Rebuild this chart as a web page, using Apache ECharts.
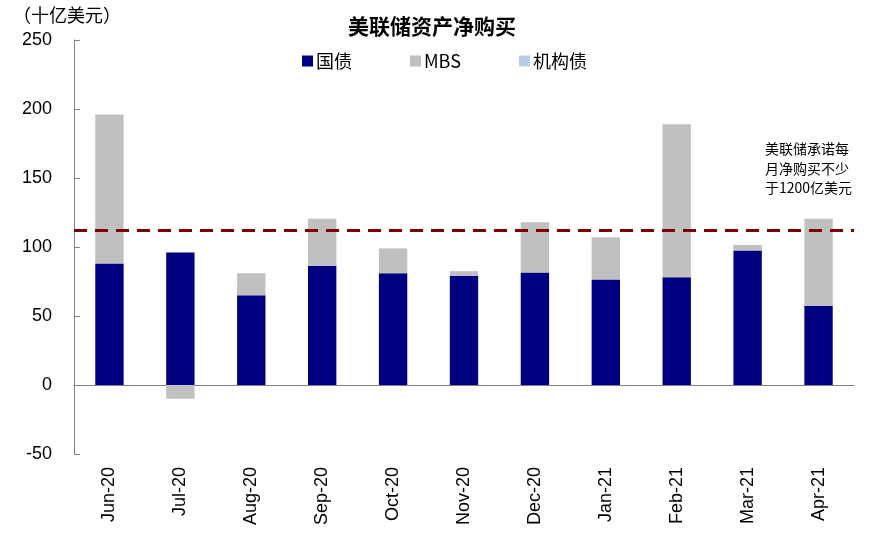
<!DOCTYPE html>
<html>
<head>
<meta charset="utf-8">
<script src="https://cdn.jsdelivr.net/npm/echarts@6/dist/echarts.min.js"></script>
<style>html,body{margin:0;padding:0;background:#fff;}#c{width:887px;height:543px;}</style>
</head>
<body>
<div id="c"></div>
<script>
const categories = ['Jun-20','Jul-20','Aug-20','Sep-20','Oct-20','Nov-20','Dec-20','Jan-21','Feb-21','Mar-21','Apr-21'];
const treasury = [88, 96, 65, 86.5, 81, 79, 81.5, 76.5, 78, 97.5, 57.5];
const mbs = [108, -10, 16, 34, 18, 3.5, 36.5, 30.5, 111, 4, 63];
const agency = [0, 0, 0, 0, 0, 0, 0, 0, 0, 0, 0];
const pledgeLevel = 112;
const yTicks = { min: -50, max: 250, interval: 50 };

const font = '"Liberation Sans", Arial, sans-serif';
const cjk = '"Noto Sans CJK SC", sans-serif';
const chart = echarts.init(document.getElementById('c'));
chart.setOption({
  animation: false,
  title: {
    text: '美联储资产净购买', left: 343, top: 11,
    textStyle: { fontFamily: cjk, fontSize: 21, fontWeight: 'bold', color: '#000' }
  },
  legend: {
    left: 297, top: 47, itemWidth: 11, itemHeight: 11, itemGap: 58, icon: 'rect',
    textStyle: { fontFamily: cjk, fontSize: 18, color: '#000', padding: [0,0,0,-2] },
    data: ['国债', 'MBS', '机构债']
  },
  grid: { left: 74, right: 33, top: 40, bottom: 89, containLabel: false },
  xAxis: [{
    type: 'category', data: categories, position: 'bottom',
    axisLine: { onZero: true, lineStyle: { color: '#808080', width: 1 } },
    axisTick: { inside: true, length: 6, lineStyle: { color: '#808080' } },
    axisLabel: { show: false }
  }, {
    type: 'category', data: categories, position: 'bottom',
    axisLine: { show: false, onZero: false }, axisTick: { show: false },
    axisLabel: { rotate: 90, margin: 13, fontSize: 18, fontFamily: font, color: '#000' }
  }],
  yAxis: {
    type: 'value', min: yTicks.min, max: yTicks.max, interval: yTicks.interval,
    axisLine: { show: true, lineStyle: { color: '#808080', width: 1 } },
    axisTick: { show: true, inside: true, length: 6, lineStyle: { color: '#808080' } },
    splitLine: { show: false },
    axisLabel: { fontSize: 18, fontFamily: font, color: '#000', margin: 22 }
  },
  graphic: [
    { type: 'text', left: 13, top: 6, style: { text: '（十亿美元）', font: '18px "Noto Sans CJK SC"', fill: '#000' } },
    { type: 'text', left: 765, top: 139, style: { text: '美联储承诺每\n月净购买不少\n于1200亿美元', font: '14px "Noto Sans CJK SC"', lineHeight: 19.5, fill: '#000' } }
  ],
  series: [
    { name: '国债', type: 'bar', stack: 'total', data: treasury, barWidth: '40%', itemStyle: { color: '#000080' },
      markLine: { silent: true, symbol: 'none', label: { show: false },
        lineStyle: { color: '#7f0000', width: 3, type: [13, 8] },
        data: [{ yAxis: pledgeLevel }] } },
    { name: 'MBS', type: 'bar', stack: 'total', data: mbs, barWidth: '40%', itemStyle: { color: '#c0c0c0' } },
    { name: '机构债', type: 'bar', stack: 'total', data: agency, barWidth: '40%', itemStyle: { color: '#b8cce4' } }
  ]
});
</script>
</body>
</html>
